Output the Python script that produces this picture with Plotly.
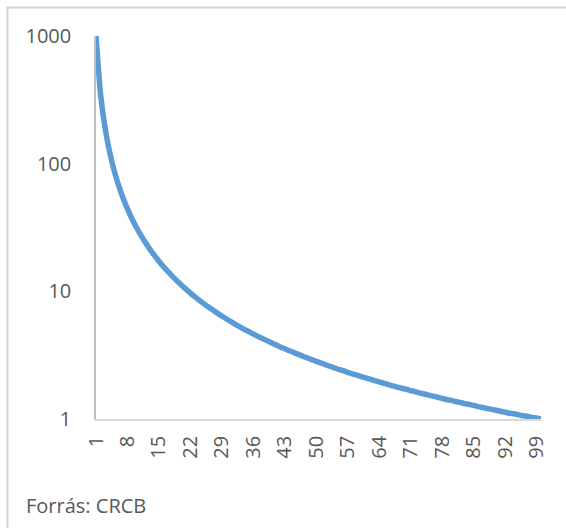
import plotly.graph_objects as go

ranks = list(range(1, 101))
values = [1000, 353.6, 192.5, 125, 89.4, 68.0, 54.0, 44.2, 37.0, 31.6,
          27.4, 24.1, 21.3, 19.1, 17.2, 15.6, 14.3, 13.1, 12.1, 11.2,
          10.4, 9.69, 9.07, 8.50, 8.00, 7.54, 7.13, 6.75, 6.40, 6.09,
          5.79, 5.52, 5.27, 5.04, 4.83, 4.63, 4.44, 4.27, 4.11, 3.95,
          3.81, 3.67, 3.55, 3.43, 3.31, 3.21, 3.10, 3.01, 2.92, 2.83,
          2.75, 2.67, 2.59, 2.52, 2.45, 2.39, 2.32, 2.26, 2.21, 2.15,
          2.10, 2.05, 2.00, 1.95, 1.91, 1.86, 1.82, 1.78, 1.74, 1.71,
          1.67, 1.64, 1.60, 1.57, 1.54, 1.51, 1.48, 1.45, 1.42, 1.40,
          1.37, 1.35, 1.32, 1.30, 1.28, 1.25, 1.23, 1.21, 1.19, 1.17,
          1.15, 1.13, 1.11, 1.10, 1.08, 1.06, 1.05, 1.03, 1.02, 1.00]
x_ticks = [1, 8, 15, 22, 29, 36, 43, 50, 57, 64, 71, 78, 85, 92, 99]
y_ticks = [1, 10, 100, 1000]
y_tick_labels = ["1", "10", "100", "1000"]
source = "Forrás: CRCB"

W, H = 566, 528
L, R, T, B = 96, 25, 36, 109
pw, ph = W - L - R, H - T - B

def px(xp):
    return (xp - L) / pw

def py(yp):
    return (H - B - yp) / ph

FONT = "Open Sans"
GRAY = "#595959"
BORDER = "#D4D4D4"

fig = go.Figure()
fig.add_trace(go.Scatter(
    x=ranks, y=values, mode="lines",
    line=dict(color="#5B9BD5", width=5.5, shape="spline", smoothing=0.6),
    hoverinfo="x+y", showlegend=False,
))

fig.update_layout(
    width=W, height=H,
    margin=dict(l=L, r=R, t=T, b=B, pad=0),
    paper_bgcolor="white", plot_bgcolor="white",
    font=dict(family=FONT, color=GRAY, size=20),
    xaxis=dict(
        range=[1, 100], tickmode="array", tickvals=x_ticks,
        ticktext=[str(v) for v in x_ticks], tickangle=-90,
        showgrid=False, zeroline=False, showline=True,
        linecolor="#D9D9D9", linewidth=1.5, ticks="",
        ticklabelstandoff=7,
        tickfont=dict(family=FONT, size=20, color=GRAY),
    ),
    yaxis=dict(
        type="log", range=[0, 3], tickmode="array", tickvals=y_ticks,
        ticktext=y_tick_labels, showgrid=False, zeroline=False,
        showline=True, linecolor="#BFBFBF", linewidth=1.5, ticks="",
        ticklabelstandoff=19,
        tickfont=dict(family=FONT, size=20, color=GRAY),
    ),
    annotations=[dict(
        text=source, xref="paper", yref="paper",
        x=px(24), y=py(505), xanchor="left", yanchor="middle",
        showarrow=False, font=dict(family=FONT, size=20, color=GRAY),
    )],
    shapes=[
        dict(type="line", xref="paper", yref="paper", layer="above",
             x0=px(7.5), x1=px(7.5), y0=py(6.5), y1=py(H + 10),
             line=dict(color=BORDER, width=2)),
        dict(type="line", xref="paper", yref="paper", layer="above",
             x0=px(6.5), x1=px(W + 10), y0=py(7.5), y1=py(7.5),
             line=dict(color=BORDER, width=2)),
    ],
)

fig.write_html(
    "out.html",
    config={"displayModeBar": False},
    post_script=(
        "var s=document.createElement('style');"
        "s.innerHTML='::-webkit-scrollbar{display:none;width:0;height:0}"
        "html,body{margin:0;padding:0;overflow:hidden;scrollbar-width:none}';"
        "document.head.appendChild(s);"
    ),
)
